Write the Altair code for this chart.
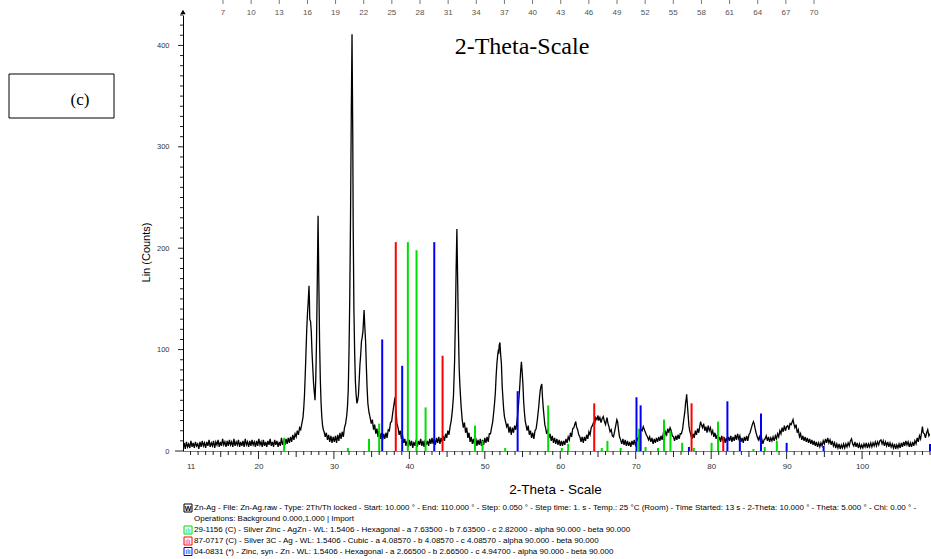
import altair as alt
import pandas as pd

# ---------------- measured diffraction scan (2-theta, counts) ----------------
scan_10_23 = [(10.0,3),(10.15,8),(10.3,2),(10.45,9),(10.6,4),(10.75,7),(10.9,3),(11.05,10),(11.2,4),(11.35,8),
              (11.5,3),(11.65,9),(11.8,5),(11.95,7),(12.1,2),(12.25,9),(12.4,4),(12.55,10),(12.7,5),(12.85,8),
              (13.0,3),(13.15,9),(13.3,5),(13.45,11),(13.6,4),(13.75,8),(13.9,5),(14.05,10),(14.2,3),(14.35,9),
              (14.5,6),(14.65,11),(14.8,4),(14.95,9),(15.1,5),(15.25,12),(15.4,6),(15.55,9),(15.7,4),(15.85,10),
              (16.0,5),(16.15,11),(16.3,6),(16.45,9),(16.6,4),(16.75,12),(16.9,5),(17.05,9),(17.2,6),(17.35,11),
              (17.5,4),(17.65,9),(17.8,5),(17.95,10),(18.1,4),(18.25,12),(18.4,6),(18.55,9),(18.7,4),(18.85,10),
              (19.0,5),(19.15,11),(19.3,6),(19.45,9),(19.6,4),(19.75,10),(19.9,5),(20.05,12),(20.2,6),(20.35,9),
              (20.5,4),(20.65,11),(20.8,5),(20.95,9),(21.1,4),(21.25,10),(21.4,6),(21.55,12),(21.7,5),(21.85,9),
              (22.0,4),(22.15,11),(22.3,6),(22.45,10),(22.6,4),(22.75,9),(22.9,5),(23.05,13),(23.2,6),(23.35,10)]
scan_23_29 = [(23.5,6),(23.65,12),(23.8,7),(23.95,13),(24.1,8),(24.25,14),(24.4,9),(24.55,16),(24.7,11),
              (24.85,17),(25.0,14),(25.15,20),(25.3,16),(25.45,23),(25.6,21),(25.75,27),(25.9,33),(26.0,42),
              (26.1,55),(26.2,75),(26.3,97),(26.4,120),(26.5,136),(26.6,148),(26.7,163),(26.75,150),(26.8,130),
              (26.9,128),(27.0,118),(27.1,97),(27.2,82),(27.3,67),(27.4,58),(27.5,50),(27.6,72),(27.7,110),
              (27.8,170),(27.9,232),(28.0,168),(28.1,108),(28.2,70),(28.3,47),(28.4,33),(28.5,25),(28.6,21),
              (28.7,19)]
scan_29_31 = [(28.85,14),(29.0,18),(29.15,11),(29.3,16),(29.45,9),(29.6,15),(29.75,8),(29.9,14),(30.05,9),
              (30.2,15),(30.35,8),(30.5,16),(30.65,10),(30.8,18),(30.95,12),(31.1,19),(31.25,14),(31.4,23),
              (31.55,27)]
scan_32_34 = [(31.7,35),(31.8,44),(31.9,60),(32.0,97),(32.1,150),(32.2,228),(32.3,330),(32.4,411),(32.5,310),
              (32.55,228),(32.65,140),(32.75,97),(32.85,68),(32.95,55),(33.05,47),(33.15,50),(33.25,55),
              (33.35,70),(33.45,85),(33.55,95),(33.65,108),(33.75,112),(33.85,118),(33.95,132),(34.0,139),
              (34.1,122),(34.2,108),(34.3,83),(34.4,62)]
scan_34_38 = [(34.5,47),(34.65,38),(34.8,33),(34.95,27),(35.1,31),(35.25,21),(35.4,26),(35.55,17),(35.7,22),
              (35.85,14),(36.0,20),(36.15,12),(36.3,18),(36.45,11),(36.6,17),(36.75,12),(36.9,18),(37.05,13),
              (37.2,21),(37.35,20),(37.5,28),(37.65,29),(37.8,38),(38.0,48),(38.1,53),(38.15,46),(38.25,38),
              (38.35,27),(38.5,23),(38.65,16),(38.8,20),(38.95,12)]
scan_39_46 = [(39.1,15),(39.25,8),(39.4,12),(39.55,5),(39.7,10),(39.85,4),(40.0,11),(40.15,5),(40.3,10),(40.45,3),
              (40.6,9),(40.75,5),(40.9,11),(41.05,4),(41.2,10),(41.35,6),(41.5,12),(41.65,5),(41.8,10),(41.95,4),
              (42.1,11),(42.25,6),(42.4,10),(42.55,5),(42.7,12),(42.85,7),(43.0,13),(43.15,7),(43.3,12),(43.45,6),
              (43.6,13),(43.75,8),(43.9,14),(44.05,7),(44.2,13),(44.35,9),(44.5,15),(44.65,10),(44.8,17),
              (44.95,13),(45.1,20),(45.25,16),(45.4,24),(45.55,30),(45.7,40),(45.85,55),(46.0,90),(46.1,129),
              (46.2,180),(46.3,219),(46.4,168),(46.5,118),(46.6,82),(46.7,64),(46.85,45)]
scan_47_51 = [(47.0,31),(47.15,23),(47.3,28),(47.45,18),(47.6,23),(47.75,13),(47.9,18),(48.05,9),(48.2,14),
              (48.35,7),(48.5,12),(48.65,6),(48.8,13),(48.95,5),(49.1,11),(49.25,6),(49.4,12),(49.55,5),(49.7,11),
              (49.85,6),(50.0,13),(50.15,8),(50.3,14),(50.45,9),(50.6,17),(50.75,17),(50.9,23),(51.05,29)]
scan_51_62 = [(51.2,40),(51.3,48),(51.4,58),(51.5,74),(51.6,86),(51.7,94),(51.8,100),(51.85,96),(51.9,104),
              (52.0,107),(52.1,95),(52.2,86),(52.3,64),(52.4,52),(52.5,41),(52.6,34),(52.75,29),(52.9,24),
              (53.05,27),(53.2,18),(53.35,24),(53.5,16),(53.65,23),(53.8,18),(53.95,25),(54.1,21),(54.25,28),
              (54.35,36),(54.45,44),(54.55,55),(54.65,66),(54.75,79),(54.85,88),(54.95,78),(55.05,66),(55.15,48),
              (55.25,38),(55.35,30),(55.45,26),(55.6,20),(55.75,25),(55.9,16),(56.05,20),(56.2,13),(56.35,18),
              (56.5,12),(56.65,20),(56.8,22),(56.95,30),(57.05,37),(57.15,44),(57.25,53),(57.35,60),(57.45,64),
              (57.55,66),(57.65,52),(57.75,42),(57.85,34),(57.95,26),(58.05,23),(58.2,17),(58.35,21),(58.5,13),
              (58.65,17),(58.8,10),(58.95,15),(59.1,8),(59.25,13),(59.4,7),(59.55,12),(59.7,6),(59.85,11),
              (60.0,5),(60.15,10),(60.3,5),(60.45,10),(60.6,6),(60.75,12),(60.9,8),(61.05,14),(61.2,11),(61.35,18),
              (61.5,14),(61.65,22),(61.8,23),(61.95,27)]
scan_62_70 = [(62.05,29),(62.15,24),(62.3,21),(62.45,16),(62.6,14),(62.75,9),(62.9,14),(63.05,8),(63.2,14),
              (63.35,10),(63.5,16),(63.65,12),(63.8,19),(63.95,16),(64.1,23),(64.25,25),(64.4,28),(64.55,27),
              (64.7,33),(64.85,31),(65.0,35),(65.1,30),(65.25,33),(65.4,28),(65.55,32),(65.7,34),(65.85,29),
              (66.0,26),(66.1,30),(66.2,33),(66.3,28),(66.45,24),(66.6,19),(66.75,21),(66.9,15),(67.05,14),
              (67.2,19),(67.35,25),(67.5,31),(67.6,29),(67.7,22),(67.85,14),(68.0,11),(68.15,7),(68.3,12),
              (68.45,6),(68.6,11),(68.75,5),(68.9,10),(69.05,5),(69.2,9),(69.35,4),(69.5,10),(69.65,6),(69.8,11),
              (69.95,6)]
scan_70_80 = [(70.1,9),(70.25,12),(70.4,14),(70.55,18),(70.7,21),(70.85,20),(71.0,24),(71.1,22),(71.25,19),
              (71.4,16),(71.55,14),(71.7,11),(71.85,14),(72.0,9),(72.15,13),(72.3,7),(72.45,12),(72.6,8),
              (72.75,13),(72.9,9),(73.05,14),(73.2,10),(73.35,15),(73.5,11),(73.65,17),(73.8,14),(73.95,19),
              (74.1,16),(74.25,22),(74.4,18),(74.55,23),(74.7,20),(74.85,15),(75.0,14),(75.15,10),(75.3,15),
              (75.45,11),(75.6,16),(75.75,12),(75.9,17),(76.05,17),(76.2,21),(76.3,27),(76.4,33),(76.5,38),
              (76.6,47),(76.7,52),(76.75,56),(76.85,45),(76.95,35),(77.05,25),(77.15,20),(77.3,16),(77.45,12),
              (77.6,17),(77.75,13),(77.9,20),(78.05,16),(78.2,22),(78.35,18),(78.5,25),(78.6,29),(78.7,26),
              (78.85,23),(79.0,27),(79.15,20),(79.3,24),(79.45,18),(79.6,25),(79.75,20),(79.9,23)]
scan_80_92 = [(80.05,17),(80.2,20),(80.35,14),(80.5,18),(80.65,12),(80.8,16),(80.95,10),(81.1,14),(81.25,9),
              (81.4,15),(81.55,10),(81.7,14),(81.85,8),(82.0,13),(82.15,9),(82.3,14),(82.45,10),(82.6,15),
              (82.75,9),(82.9,14),(83.05,10),(83.2,16),(83.35,11),(83.5,17),(83.65,12),(83.8,15),(83.95,9),
              (84.1,13),(84.25,8),(84.4,14),(84.55,10),(84.7,15),(84.85,10),(85.0,16),(85.15,18),(85.3,22),
              (85.45,26),(85.6,29),(85.7,27),(85.8,23),(85.95,18),(86.1,14),(86.25,11),(86.4,14),(86.55,9),
              (86.7,12),(86.85,7),(87.0,11),(87.15,12),(87.3,15),(87.45,10),(87.6,14),(87.75,9),(87.9,13),
              (88.05,10),(88.2,14),(88.35,10),(88.5,15),(88.65,12),(88.8,17),(88.95,14),(89.1,20),(89.25,17),
              (89.4,23),(89.55,19),(89.7,25),(89.85,20),(90.0,24),(90.15,25),(90.3,21),(90.45,27),(90.6,26),
              (90.75,29),(90.85,31),(90.95,27),(91.1,23),(91.25,26),(91.4,18),(91.55,21),(91.7,14),(91.85,17)]
scan_92_109 = [(92.0,11),(92.15,15),(92.3,10),(92.45,14),(92.6,9),(92.75,13),(92.9,8),(93.05,12),(93.2,7),
               (93.35,11),(93.5,6),(93.65,10),(93.8,5),(93.95,9),(94.1,4),(94.25,8),(94.4,4),(94.55,8),(94.7,5),
               (94.85,10),(95.0,7),(95.15,12),(95.3,8),(95.45,13),(95.6,8),(95.75,11),(95.9,6),(96.05,10),(96.2,5),
               (96.35,8),(96.5,3),(96.65,7),(96.8,3),(96.95,7),(97.1,2),(97.25,6),(97.4,3),(97.55,7),(97.7,3),
               (97.85,7),(98.0,4),(98.15,8),(98.3,5),(98.45,10),(98.6,12),(98.75,7),(98.9,5),(99.05,9),(99.2,4),
               (99.35,8),(99.5,3),(99.65,7),(99.8,3),(99.95,6),(100.1,3),(100.25,7),(100.4,4),(100.55,8),
               (100.7,3),(100.85,7),(101.0,4),(101.15,8),(101.3,4),(101.45,8),(101.6,5),(101.75,9),(101.9,5),
               (102.05,9),(102.2,6),(102.35,10),(102.5,11),(102.65,7),(102.8,10),(102.95,5),(103.1,9),(103.25,5),
               (103.4,9),(103.55,4),(103.7,8),(103.85,4),(104.0,7),(104.15,3),(104.3,7),(104.45,2),(104.6,6),
               (104.75,3),(104.9,7),(105.05,3),(105.2,8),(105.35,4),(105.5,9),(105.65,5),(105.8,10),(105.95,6),
               (106.1,9),(106.25,4),(106.4,8),(106.55,4),(106.7,9),(106.85,5),(107.0,10),(107.15,7),(107.3,13),
               (107.45,9),(107.6,15),(107.75,12),(107.9,19),(108.0,24),(108.1,18),(108.25,17),(108.4,13),
               (108.55,18),(108.7,21),(108.85,15),(109.0,17)]

# ---------------- reference patterns (stick positions, heights) ----------------
agzn_theta = [23.4, 31.85, 34.65, 36.0, 39.8, 40.95, 42.15, 48.7, 49.7, 52.7, 58.4, 60.2, 61.05, 65.5, 66.25,
              68.0, 70.45, 71.3, 72.95, 73.75, 74.6, 76.15, 77.7, 80.05, 80.9, 85.6, 87.1, 88.7]
agzn_int = [13, 3, 12, 27, 206, 198, 43, 25, 10, 3, 45, 3, 7, 3, 10, 3, 22, 4, 3, 31, 20, 8, 3, 8, 29, 2, 4, 10]
ag_theta = [38.2, 44.4, 64.5, 77.4, 81.6]
ag_int = [206, 94, 47, 47, 14]
zn_theta = [36.4, 39.05, 43.3, 54.35, 70.1, 70.65, 77.05, 82.15, 83.8, 86.6, 90.0, 94.9, 109.0]
zn_int = [110, 84, 206, 59, 53, 45, 4, 49, 12, 37, 8, 5, 7]

# ---------------- axis labels ----------------
x_label_values = [11, 20, 30, 40, 50, 60, 70, 80, 90, 100]
y_label_values = [0, 100, 200, 300, 400]
top_scale_labels = [7, 10, 13, 16, 19, 22, 25, 28, 31, 34, 37, 40, 43, 46, 49, 52, 55, 58, 61, 64, 67, 70]

legend_lines = [
    "Zn-Ag - File: Zn-Ag.raw - Type: 2Th/Th locked - Start: 10.000 \u00b0 - End: 110.000 \u00b0 - Step: 0.050 \u00b0 - Step time: 1. s - Temp.: 25 \u00b0C (Room) - Time Started: 13 s - 2-Theta: 10.000 \u00b0 - Theta: 5.000 \u00b0 - Chi: 0.00 \u00b0 -",
    "Operations: Background 0.000,1.000 | Import",
    "29-1156 (C) - Silver Zinc - AgZn - WL: 1.5406 - Hexagonal - a 7.63500 - b 7.63500 - c 2.82000 - alpha 90.000 - beta 90.000",
    "87-0717 (C) - Silver 3C - Ag - WL: 1.5406 - Cubic - a 4.08570 - b 4.08570 - c 4.08570 - alpha 90.000 - beta 90.000",
    "04-0831 (*) - Zinc, syn - Zn - WL: 1.5406 - Hexagonal - a 2.66500 - b 2.66500 - c 4.94700 - alpha 90.000 - beta 90.000",
]

# ---------------- build ----------------
W, H = 747, 436
FONT = "Liberation Sans"
SERIF = "Liberation Serif"
GREEN, RED, BLUE = "#00dd00", "#ff0000", "#0000ff"

scan = (scan_10_23 + scan_23_29 + scan_29_31 + scan_32_34 + scan_34_38 + scan_39_46 + scan_47_51
        + scan_51_62 + scan_62_70 + scan_70_80 + scan_80_92 + scan_92_109)
df_scan = pd.DataFrame(scan, columns=["theta", "counts"])

sticks = pd.concat([
    pd.DataFrame({"theta": agzn_theta, "inten": agzn_int, "phase": "AgZn"}),
    pd.DataFrame({"theta": ag_theta, "inten": ag_int, "phase": "Ag"}),
    pd.DataFrame({"theta": zn_theta, "inten": zn_int, "phase": "Zn"}),
])

xs = alt.Scale(domain=[10, 109], nice=False, zero=False)
ys = alt.Scale(domain=[0, 430], nice=False, zero=True)

x_axis = alt.Axis(values=x_label_values, ticks=False, grid=False, domainColor="#808080", domainWidth=1,
                  labelFont=FONT, labelFontSize=8, labelColor="#333333", labelPadding=11,
                  labelFlush=False, labelOverlap=False, orient="bottom",
                  title="2-Theta - Scale", titleFont=FONT, titleFontSize=13.5, titleFontWeight="normal",
                  titleColor="black", titleX=372, titleY=38, titleBaseline="middle", titleAlign="center")
y_axis = alt.Axis(values=y_label_values, ticks=False, grid=False, domainColor="black", domainWidth=1,
                  labelFont=FONT, labelFontSize=7.5, labelColor="#333333", labelPadding=14, orient="left",
                  title="Lin (Counts)", titleFont=FONT, titleFontSize=11, titleFontWeight="normal",
                  titleColor="black", titleX=-37, titleY=237, titleAngle=270,
                  titleAlign="center", titleBaseline="middle")


def X(field):
    return alt.X(field, scale=xs, axis=x_axis)


def Y(field):
    return alt.Y(field, scale=ys, axis=y_axis)


line = alt.Chart(df_scan).mark_line(color="black", strokeWidth=1.3, clip=True).encode(
    x=X("theta:Q"), y=Y("counts:Q"))

stick_layer = alt.Chart(sticks).mark_rule(strokeWidth=2).encode(
    x=X("theta:Q"), y=Y("inten:Q"), y2=alt.datum(0),
    color=alt.Color("phase:N", scale=alt.Scale(domain=["AgZn", "Ag", "Zn"], range=[GREEN, RED, BLUE]),
                    legend=None),
)


def xticks(values, length):
    return alt.Chart(pd.DataFrame({"t": values})).mark_rule(color="#222222", strokeWidth=1).encode(
        x=X("t:Q"), y=alt.value(H), y2=alt.value(H + length))


def yticks(values, length):
    return alt.Chart(pd.DataFrame({"t": values})).mark_rule(color="#222222", strokeWidth=1).encode(
        y=Y("t:Q"), x=alt.value(-length), x2=alt.value(0))


x_minor = xticks([v for v in range(11, 110) if v % 5 != 0], 4)
x_mid = xticks([v for v in range(15, 110, 10)], 6)
x_major = xticks([v for v in range(20, 110, 10)], 8)
y_minor = yticks([v for v in range(10, 431, 10) if v % 100 != 0], 3)
y_major = yticks([100, 200, 300, 400], 5)
y_zero = yticks([0], 8)

one = pd.DataFrame({"a": [0]})
arrow = alt.Chart(one).mark_point(shape="triangle-up", filled=True, color="black", size=28, opacity=1).encode(
    x=alt.value(0), y=alt.value(-3))

# secondary (cropped) 2-theta scale printed across the top; 7 sits at 15.30 and 70 at 93.63 on the main scale
df_top = pd.DataFrame({"v": top_scale_labels})
top_base = alt.Chart(df_top).transform_calculate(pos="15.30 + (datum.v - 7) * 78.33 / 63")
top_text = top_base.mark_text(font=FONT, fontSize=8, color="#555555", baseline="middle").encode(
    x=X("pos:Q"), y=alt.value(-2), text="v:Q")
top_ticks = top_base.mark_rule(color="#777777").encode(
    x=X("pos:Q"), y=alt.value(-15), y2=alt.value(-11))

big_title = alt.Chart(one).mark_text(font=SERIF, fontSize=24, color="black", align="center",
                                     baseline="middle").encode(
    x=alt.value(339), y=alt.value(32), text=alt.value("2-Theta-Scale"))

box = alt.Chart(one).mark_rect(fill="white", stroke="black", strokeWidth=1).encode(
    x=alt.value(-174), x2=alt.value(-69), y=alt.value(59), y2=alt.value(103))
box_text = alt.Chart(one).mark_text(font=SERIF, fontSize=17, color="black", align="center",
                                    baseline="middle").encode(
    x=alt.value(-103), y=alt.value(85), text=alt.value("(c)"))

legend_y = [493, 503.5, 515, 526, 536.5]
legend_layers = []
for i, txt in enumerate(legend_lines):
    legend_layers.append(alt.Chart(one).mark_text(font=FONT, fontSize=8, color="black", align="left",
                                                  baseline="middle").encode(
        x=alt.value(11), y=alt.value(legend_y[i]), text=alt.value(txt)))
icon_colors = {0: "black", 2: GREEN, 3: RED, 4: BLUE}
for i, col in icon_colors.items():
    legend_layers.append(alt.Chart(one).mark_point(shape="square", filled=False, color=col, size=64,
                                                   strokeWidth=1, opacity=1).encode(
        x=alt.value(5), y=alt.value(legend_y[i])))
    legend_layers.append(alt.Chart(one).mark_text(font=FONT, fontSize=7, color=col, align="center",
                                                  baseline="middle",
                                                  fontWeight="bold" if i == 0 else "normal").encode(
        x=alt.value(5), y=alt.value(legend_y[i] + 0.5), text=alt.value("W" if i == 0 else "\u0131l\u0131")))

chart = alt.layer(
    line, stick_layer, x_minor, x_mid, x_major, y_minor, y_major, y_zero, arrow,
    top_ticks, top_text, big_title, box, box_text, *legend_layers
).properties(
    width=W, height=H,
    autosize=alt.AutoSizeParams(type="none"),
    padding={"left": 183, "top": 15, "right": 1, "bottom": 108},
    background="white",
).configure_view(stroke=None)

chart.save("out.html", embed_options={"renderer": "svg", "actions": False})
